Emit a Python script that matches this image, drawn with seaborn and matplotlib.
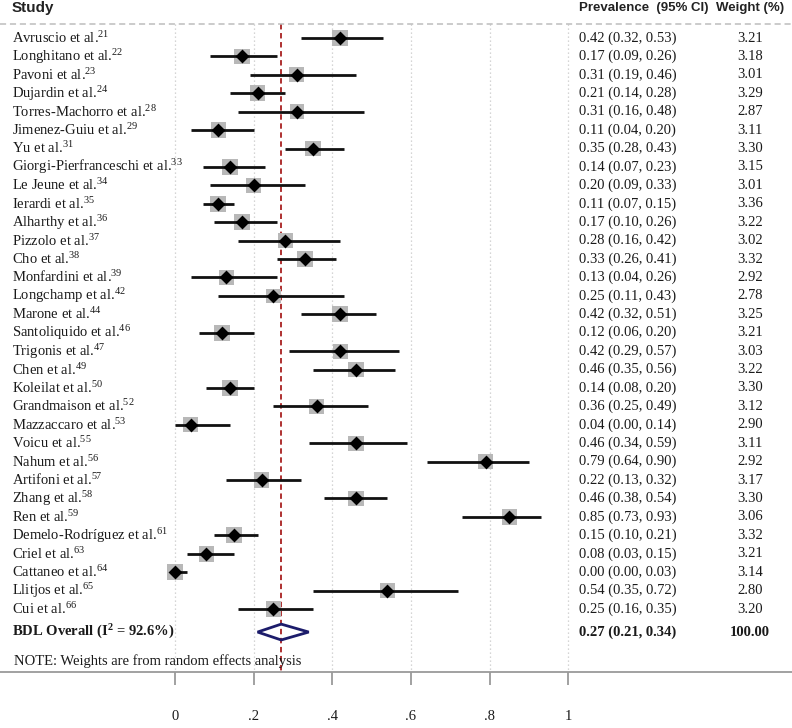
import matplotlib
matplotlib.use("Agg")
import matplotlib.pyplot as plt
import matplotlib.transforms as mtransforms
import numpy as np
import pandas as pd
import seaborn as sns

# study names and reference numbers
studies = [
    "Avruscio", "Longhitano", "Pavoni", "Dujardin", "Torres-Machorro",
    "Jimenez-Guiu", "Yu", "Giorgi-Pierfranceschi", "Le Jeune", "Ierardi",
    "Alharthy", "Pizzolo", "Cho", "Monfardini", "Longchamp", "Marone",
    "Santoliquido", "Trigonis", "Chen", "Koleilat", "Grandmaison",
    "Mazzaccaro", "Voicu", "Nahum", "Artifoni", "Zhang", "Ren",
    "Demelo-Rodríguez", "Criel", "Cattaneo", "Llitjos", "Cui",
]
refs = [21, 22, 23, 24, 28, 29, 31, 33, 34, 35, 36, 37, 38, 39, 42, 44,
        46, 47, 49, 50, 52, 53, 55, 56, 57, 58, 59, 61, 63, 64, 65, 66]
prevalence = [0.42, 0.17, 0.31, 0.21, 0.31, 0.11, 0.35, 0.14, 0.20, 0.11,
              0.17, 0.28, 0.33, 0.13, 0.25, 0.42, 0.12, 0.42, 0.46, 0.14,
              0.36, 0.04, 0.46, 0.79, 0.22, 0.46, 0.85, 0.15, 0.08, 0.00,
              0.54, 0.25]
ci_low = [0.32, 0.09, 0.19, 0.14, 0.16, 0.04, 0.28, 0.07, 0.09, 0.07,
          0.10, 0.16, 0.26, 0.04, 0.11, 0.32, 0.06, 0.29, 0.35, 0.08,
          0.25, 0.00, 0.34, 0.64, 0.13, 0.38, 0.73, 0.10, 0.03, 0.00,
          0.35, 0.16]
ci_high = [0.53, 0.26, 0.46, 0.28, 0.48, 0.20, 0.43, 0.23, 0.33, 0.15,
           0.26, 0.42, 0.41, 0.26, 0.43, 0.51, 0.20, 0.57, 0.56, 0.20,
           0.49, 0.14, 0.59, 0.90, 0.32, 0.54, 0.93, 0.21, 0.15, 0.03,
           0.72, 0.35]
weights = [3.21, 3.18, 3.01, 3.29, 2.87, 3.11, 3.30, 3.15, 3.01, 3.36,
           3.22, 3.02, 3.32, 2.92, 2.78, 3.25, 3.21, 3.03, 3.22, 3.30,
           3.12, 2.90, 3.11, 2.92, 3.17, 3.30, 3.06, 3.32, 3.21, 3.14,
           2.80, 3.20]

overall_est = 0.27
overall_low = 0.21
overall_high = 0.34
overall_i2 = 92.6
overall_weight = 100.00

xticks = [0, 0.2, 0.4, 0.6, 0.8, 1.0]
xtick_labels = ["0", ".2", ".4", ".6", ".8", "1"]

df = pd.DataFrame({
    "study": studies,
    "ref": refs,
    "prevalence": prevalence,
    "low": ci_low,
    "high": ci_high,
    "weight": weights,
})
df["row"] = np.arange(len(df))
overall_row = len(df) + 0.25

sns.set_theme(style="white")
plt.rcParams["font.family"] = ["Liberation Serif", "DejaVu Serif"]
plt.rcParams["mathtext.default"] = "regular"
SANS = ["Liberation Sans", "DejaVu Sans"]
TXT = "#1a1a1a"

W, H = 792, 728
fig = plt.figure(figsize=(W / 100, H / 100), dpi=100)
ax = fig.add_axes([0, 56 / H, 1, 672 / H])

# x: 0 -> 175px, 1 -> 568px ; y: row 0 -> 38px, 18.42px per row
px_per_x = 393.3
ax.set_xlim(-175 / px_per_x, (W - 175) / px_per_x)
row_px = 18.42
ax.set_ylim((672 - 38) / row_px, -38 / row_px)

top_line = -14 / row_px
ybottom = (672 - 38) / row_px

# dotted grid + reference line
ax.vlines(xticks, top_line, ybottom, colors="#c8c8c8",
          linestyles=(0, (1, 2.2)), linewidth=0.9, zorder=0)
ax.vlines(overall_est, top_line, ybottom, colors="#a82020",
          linestyles=(0, (3, 2)), linewidth=1.3, zorder=1)
ax.axhline(top_line, color="#bdbdbd", linestyle=(0, (4, 2.5)), linewidth=1.1)

# study markers
sns.scatterplot(data=df, x="prevalence", y="row", size="weight",
                sizes=(108, 132), marker="s", color="#b8b8b8",
                linewidth=0, legend=False, ax=ax, zorder=2)
ax.hlines(df["row"], df["low"], df["high"], colors="#111111",
          linewidth=2.0, zorder=3)
sns.scatterplot(data=df, x="prevalence", y="row", marker="D", s=50,
                color="black", linewidth=0, legend=False, ax=ax, zorder=4)

# overall diamond
dh = 0.43
ax.fill([overall_low, overall_est, overall_high, overall_est],
        [overall_row, overall_row - dh, overall_row, overall_row + dh],
        facecolor="none", edgecolor="#1c1c6b", linewidth=2.0, zorder=4)

# text columns
tr = mtransforms.blended_transform_factory(ax.transAxes, ax.transData)
x_lab, x_prev, x_w = 12 / W, 579 / W, 750 / W
head_y = -30 / row_px
ax.text(x_lab, head_y, "Study", transform=tr, family=SANS, weight="bold",
        fontsize=11, va="center", color="#222222")
ax.text(x_prev, head_y, "Prevalence  (95% CI)", transform=tr, family=SANS,
        weight="bold", fontsize=9.5, va="center", color="#222222")
ax.text(x_w, head_y, "Weight (%)", transform=tr, family=SANS,
        weight="bold", fontsize=9.5, va="center", ha="center", color="#222222")

for r in df.itertuples():
    ax.text(x_lab, r.row, f"{r.study} et al.$^{{{r.ref}}}$", transform=tr,
            fontsize=10.5, va="center", color=TXT)
    ax.text(x_prev, r.row, f"{r.prevalence:.2f} ({r.low:.2f}, {r.high:.2f})",
            transform=tr, fontsize=10.5, va="center", color=TXT)
    ax.text(x_w, r.row, f"{r.weight:.2f}", transform=tr, fontsize=10.5,
            va="center", ha="center", color=TXT)

ax.text(x_lab, overall_row, f"BDL Overall (I$^2$ = {overall_i2}%)",
        transform=tr, fontsize=10.5, weight="bold", va="center", color=TXT)
ax.text(x_prev, overall_row,
        f"{overall_est:.2f} ({overall_low:.2f}, {overall_high:.2f})",
        transform=tr, fontsize=10.5, weight="bold", va="center", color=TXT)
ax.text(x_w, overall_row, f"{overall_weight:.2f}", transform=tr,
        fontsize=10.5, weight="bold", va="center", ha="center", color=TXT)
ax.text(14 / W, overall_row + 1.6,
        "NOTE: Weights are from random effects analysis", transform=tr,
        fontsize=10.5, va="center", color=TXT)

# axis
for s in ["top", "left", "right"]:
    ax.spines[s].set_visible(False)
ax.spines["bottom"].set_color("#9a9a9a")
ax.spines["bottom"].set_linewidth(1.3)
ax.set_xticks(xticks)
ax.set_xticklabels(xtick_labels, fontsize=10.5, color=TXT)
ax.tick_params(axis="x", bottom=True, length=9, width=1.3, color="#9a9a9a",
               pad=18)
ax.set_yticks([])
ax.set_xlabel("")
ax.set_ylabel("")

fig.savefig("out.png", dpi=100)
